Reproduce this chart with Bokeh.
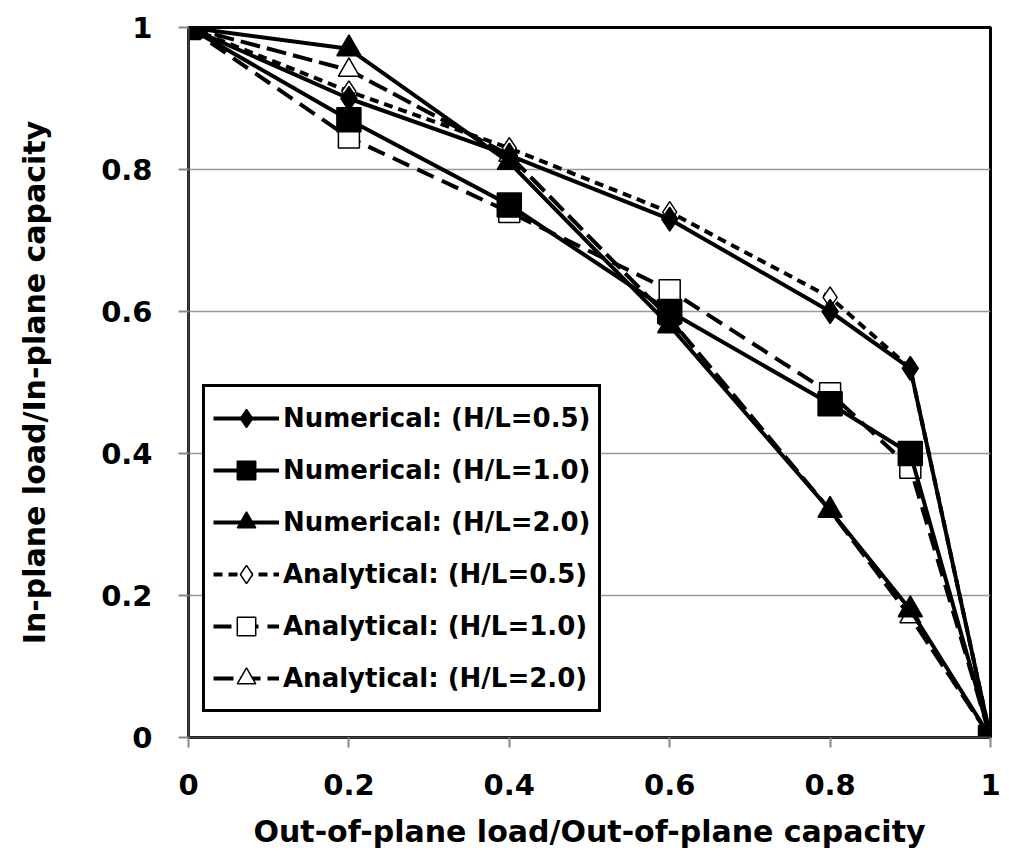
from bokeh.plotting import figure
from bokeh.models import (ColumnDataSource, Legend, LegendItem, FixedTicker,
                          CustomJSTickFormatter, Range1d)
from bokeh.embed import file_html
from bokeh.resources import INLINE

# ---- data ----
x_vals = [0, 0.2, 0.4, 0.6, 0.8, 0.9, 1.0]
num_05 = [1, 0.90, 0.82, 0.73, 0.60, 0.52, 0]
num_10 = [1, 0.87, 0.75, 0.60, 0.47, 0.40, 0]
num_20 = [1, 0.97, 0.81, 0.58, 0.32, 0.18, 0]
ana_05 = [1, 0.91, 0.83, 0.74, 0.62, 0.52, 0]
ana_10 = [1, 0.845, 0.74, 0.63, 0.485, 0.38, 0]
ana_20 = [1, 0.94, 0.82, 0.59, 0.32, 0.17, 0]
tick_vals = [0, 0.2, 0.4, 0.6, 0.8, 1.0]
labels = ["Numerical: (H/L=0.5)", "Numerical: (H/L=1.0)", "Numerical: (H/L=2.0)",
          "Analytical: (H/L=0.5)", "Analytical: (H/L=1.0)", "Analytical: (H/L=2.0)"]

FONT = "DejaVu Sans"

p = figure(width=1009, height=866, output_backend="svg", toolbar_location=None,
           x_range=Range1d(0, 1), y_range=Range1d(0, 1),
           min_border_left=188, min_border_right=19, min_border_top=27,
           min_border_bottom=129)
p.outline_line_color = "black"
p.outline_line_width = 3
p.outline_line_alpha = 1
p.background_fill_color = "white"
p.border_fill_color = "white"

fmt = CustomJSTickFormatter(code="return (Math.abs(tick) < 1e-9 || Math.abs(tick-1) < 1e-9) ? tick.toFixed(0) : tick.toFixed(1);")
for ax in (p.xaxis[0], p.yaxis[0]):
    ax.ticker = FixedTicker(ticks=tick_vals)
    ax.formatter = fmt
    ax.major_label_text_font = FONT
    ax.major_label_text_font_style = "bold"
    ax.major_label_text_font_size = "29px"
    ax.major_label_text_color = "black"
    ax.axis_label_text_font = FONT
    ax.axis_label_text_font_style = "bold"
    ax.axis_label_text_font_size = "30px"
    ax.axis_label_text_color = "black"
    ax.axis_line_color = "#444444"
    ax.axis_line_width = 2
    ax.major_tick_line_color = "#888888"
    ax.major_tick_line_width = 2
    ax.major_tick_out = 10
    ax.major_tick_in = 0
    ax.minor_tick_line_color = None
    ax.major_label_standoff = 26

p.xaxis.axis_label = "Out-of-plane load/Out-of-plane capacity"
p.yaxis.axis_label = "In-plane load/In-plane capacity"
p.xaxis.axis_label_standoff = 16
p.yaxis.axis_label_standoff = 46

p.xgrid.grid_line_color = None
p.ygrid.grid_line_color = "#999999"
p.ygrid.grid_line_width = 1.5

series = [
    # (values, marker, filled, dash, size)
    (num_05, "diamond", True, "solid", 24),
    (num_10, "square", True, "solid", 24),
    (num_20, "triangle", True, "solid", 24),
    (ana_05, "diamond", False, "9 6", 21),
    (ana_10, "square", False, "18 9", 21),
    (ana_20, "triangle", False, "20 7", 21),
]

renderers = [None] * 6
# draw analytical first, numerical on top
for idx in [3, 4, 5, 0, 1, 2]:
    vals, marker, filled, dash, size = series[idx]
    src = ColumnDataSource(dict(x=x_vals, y=vals))
    ln = p.line("x", "y", source=src, line_color="black", line_width=4,
                line_dash=dash)
    sc = p.scatter("x", "y", source=src, marker=marker, size=size,
                   fill_color="black" if filled else "white",
                   line_color="black", line_width=1.5)
    renderers[idx] = (ln, sc)

items = [LegendItem(label=labels[i], renderers=list(renderers[i])) for i in range(6)]
legend = Legend(items=items, location=(14, 25))
legend.label_text_font = FONT
legend.label_text_font_style = "bold"
legend.label_text_font_size = "26px"
legend.label_text_color = "black"
legend.glyph_width = 66
legend.glyph_height = 46
legend.label_height = 46
legend.spacing = 6
legend.padding = 8
legend.margin = 0
legend.label_standoff = 4
legend.border_line_color = "black"
legend.border_line_alpha = 1
legend.border_line_width = 3
legend.background_fill_color = "white"
legend.background_fill_alpha = 1
p.add_layout(legend, "center")

open("out.html", "w").write(file_html(p, INLINE))
